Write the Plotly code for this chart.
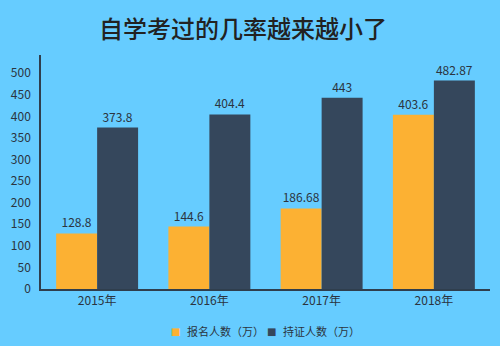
import plotly.graph_objects as go

years = ["2015年", "2016年", "2017年", "2018年"]
applicants = [128.8, 144.6, 186.68, 403.6]
certified = [373.8, 404.4, 443, 482.87]
y_ticks = [0, 50, 100, 150, 200, 250, 300, 350, 400, 450, 500]

series = [
    ("报名人数（万）", applicants, "#fcb133"),
    ("持证人数（万）", certified, "#35475c"),
]

bg = "#66ccff"
font_family = "Noto Sans CJK SC, Noto Sans, sans-serif"
text_color = "#2b3440"

W, H = 500, 346
margin = dict(l=41, r=10, t=55, b=57)
plot_w = W - margin["l"] - margin["r"]
plot_h = H - margin["t"] - margin["b"]


def paper_x(px):
    return (px - margin["l"]) / plot_w


def paper_y(py):
    return (H - margin["b"] - py) / plot_h


fig = go.Figure()
for name, values, color in series:
    fig.add_trace(go.Bar(
        x=years, y=values, name=name, showlegend=False,
        marker=dict(color=color, line=dict(width=0)),
        text=[f"{v:g}" for v in values], textposition="outside",
        textfont=dict(size=12, color=text_color), cliponaxis=False,
    ))

# Compact legend row: a small coloured square followed by the series name
legend_y = paper_y(331)
legend_slots = [175, 271]
for (name, _, color), sx in zip(series, legend_slots):
    fig.add_annotation(
        x=paper_x(sx), y=legend_y, xref="paper", yref="paper",
        text="■", showarrow=False, xanchor="center", yanchor="middle",
        font=dict(size=10, color=color, family="DejaVu Sans"),
    )
    fig.add_annotation(
        x=paper_x(sx + 10), y=legend_y, xref="paper", yref="paper",
        text=name, showarrow=False, xanchor="left", yanchor="middle",
        font=dict(size=11, color=text_color, family=font_family),
    )

fig.update_layout(
    width=W, height=H,
    paper_bgcolor=bg, plot_bgcolor=bg,
    margin=dict(**margin, autoexpand=False),
    barmode="group", bargap=0.27, bargroupgap=0,
    font=dict(family=font_family, color=text_color, size=12),
    title=dict(
        text="自学考过的几率越来越小了",
        x=0.486, xanchor="center", y=0.915, yanchor="middle",
        font=dict(size=24, color="#222222", family=font_family, weight=500),
    ),
    showlegend=False,
)
fig.update_xaxes(
    showline=True, linecolor="#2f3e4d", linewidth=1.5,
    showgrid=False, ticks="", tickfont=dict(size=12, color=text_color),
)
fig.update_yaxes(
    range=[0, 542], tickvals=y_ticks, showline=True, linecolor="#2f3e4d",
    linewidth=1.5, showgrid=False, zeroline=False, ticks="",
    tickfont=dict(size=12, color=text_color), ticklabelstandoff=6,
)

fig.write_html("out.html")
